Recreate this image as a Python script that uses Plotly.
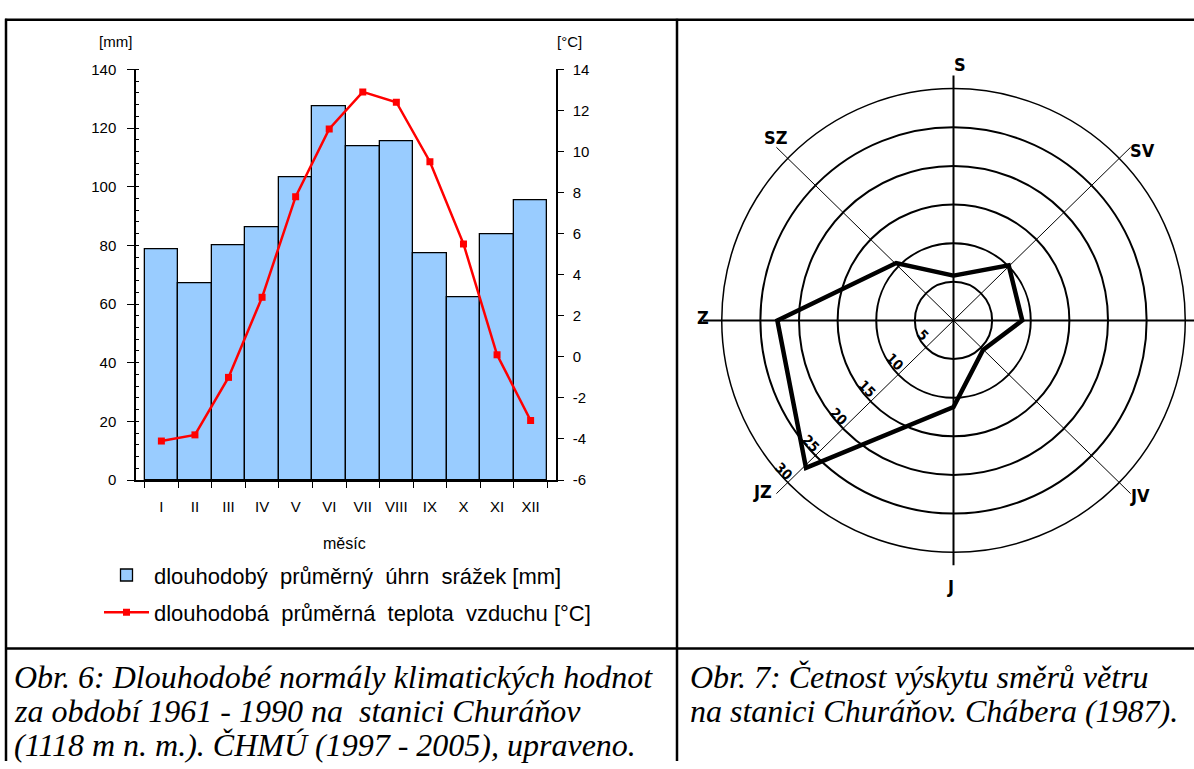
import math
import plotly.graph_objects as go

W, H = 1194, 769

# ---------------- data ----------------
months = ["I", "II", "III", "IV", "V", "VI", "VII", "VIII", "IX", "X", "XI", "XII"]
precip_mm = [78.8, 67.2, 80.1, 86.0, 103.2, 127.5, 113.7, 115.6, 77.2, 62.3, 83.8, 95.4]
temp_c = [-4.1, -3.8, -1.0, 2.9, 7.8, 11.1, 12.9, 12.4, 9.5, 5.5, 0.1, -3.1]
temp_tick_vals = [-6, -4, -2, 0, 2, 4, 6, 8, 10, 12, 14]
temp_tick_text = ["-6", "-4", "-2", "0", "2", "4", "6", "8", "10", "12", "14"]

directions = ["S", "SV", "V", "JV", "J", "JZ", "Z", "SZ"]
wind_freq = [5.8, 10.1, 8.9, 5.4, 11.2, 27.0, 22.8, 10.5]
rings = [5, 10, 15, 20, 25, 30]

legend_precip = "dlouhodobý  průměrný  úhrn  srážek [mm]"
legend_temp = "dlouhodobá  průměrná  teplota  vzduchu [°C]"
caption_left = ["Obr. 6: Dlouhodobé normály klimatických hodnot",
                "za období 1961 - 1990 na  stanici Churáňov",
                "(1118 m n. m.). ČHMÚ (1997 - 2005), upraveno."]
caption_right = ["Obr. 7: Četnost výskytu směrů větru",
                 "na stanici Churáňov. Chábera (1987)."]

# ---------------- helpers (pixel -> paper) ----------------
def px(x):
    return x / W

def py(y):
    return 1 - y / H

SANS = "Liberation Sans, Arial, sans-serif"
NARROW = "Liberation Sans Narrow, DejaVu Sans Condensed, Arial Narrow, sans-serif"
SERIF = "Liberation Serif, Times New Roman, serif"

fig = go.Figure()

# ---------------- left: climate chart ----------------
fig.add_trace(go.Bar(
    x=months, y=precip_mm, name=legend_precip,
    marker=dict(color="#99CCFF", line=dict(color="black", width=1.3)),
    xaxis="x", yaxis="y", legend="legend",
))
fig.add_trace(go.Scatter(
    x=months, y=temp_c, name=legend_temp, mode="lines+markers",
    line=dict(color="#FF0000", width=2.5),
    marker=dict(symbol="square", size=7, color="#FF0000"),
    xaxis="x", yaxis="y2", legend="legend2",
))

# ---------------- right: wind rose ----------------
cx, cy, scale = 953.5, 318.5, 7.9   # centre pixel and pixels per % unit
R = max(rings)

spoke_len = 31.7
for i, d in enumerate(directions):
    a = math.radians(i * 45)
    fig.add_trace(go.Scatter(
        x=[0, spoke_len * math.sin(a)], y=[0, spoke_len * math.cos(a)],
        mode="lines", line=dict(color="black", width=2 if i % 2 == 0 else 1),
        xaxis="x2", yaxis="y4", showlegend=False, hoverinfo="skip",
    ))

fig.add_trace(go.Scatterpolar(
    r=wind_freq + wind_freq[:1], theta=directions + directions[:1],
    mode="lines", line=dict(color="black", width=4.5),
    subplot="polar", showlegend=False,
))

label_r = {"S": 33.1, "SV": 32.5, "V": 33, "JV": 32.7, "J": 34.4, "JZ": 32.8, "Z": 31.7, "SZ": 32.7}
label_da = {"S": 1.4, "SV": 2.4, "V": 0, "JV": -1.2, "J": 0.7, "JZ": 2.6, "Z": 0.6, "SZ": 1.5}
annotations = []
for i, d in enumerate(directions):
    a = math.radians(i * 45 + label_da[d])
    annotations.append(dict(
        x=label_r[d] * math.sin(a), y=label_r[d] * math.cos(a), xref="x2", yref="y4",
        xanchor="center", yanchor="middle",
        text=f"<b>{d}</b>", showarrow=False,
        font=dict(family=NARROW, size=18, color="black"),
    ))
s45 = math.sin(math.radians(45))
for rv in rings:
    annotations.append(dict(
        x=-rv * s45 - 0.3, y=-rv * s45 + 1.7, xref="x2", yref="y4",
        xanchor="center", yanchor="middle",
        text=f"<b>{rv}</b>", showarrow=False, textangle=45,
        font=dict(family=NARROW, size=14, color="black"),
    ))

# ---------------- text around left chart ----------------
def label(x, y, text, size, family=SANS, xanchor="center", style="normal"):
    annotations.append(dict(
        x=px(x), y=py(y), xref="paper", yref="paper", xanchor=xanchor, yanchor="middle",
        text=text, showarrow=False,
        font=dict(family=family, size=size, color="black", style=style),
    ))

label(115, 33, "[mm]", 15)
label(569, 33, "[°C]", 15)
label(345, 547, "měsíc", 16)
for k, line in enumerate(caption_left):
    label(12, 683 + 35 * k, line, 32, family=SERIF, xanchor="left", style="italic")
for k, line in enumerate(caption_right):
    label(688, 683 + 35 * k, line, 32, family=SERIF, xanchor="left", style="italic")

# ---------------- table borders ----------------
shapes = []
def hline(y, x0, x1):
    shapes.append(dict(type="line", xref="paper", yref="paper", x0=px(x0), x1=px(x1),
                       y0=py(y), y1=py(y), line=dict(color="black", width=2.5)))
def vline(x, y0, y1):
    shapes.append(dict(type="line", xref="paper", yref="paper", x0=px(x), x1=px(x),
                       y0=py(y0), y1=py(y1), line=dict(color="black", width=2.5)))
hline(11, 5, W)
hline(654, 5, W)
vline(6, 10, H)
vline(677, 10, H)

axis_font = dict(family=SANS, size=15, color="black")
legend_font = dict(family=SANS, size=22, color="black")
fig.update_layout(
    width=W, height=H, margin=dict(l=0, r=0, t=0, b=0),
    paper_bgcolor="white", plot_bgcolor="rgba(0,0,0,0)",
    bargap=0,
    xaxis=dict(domain=[px(136), px(556)], anchor="y", type="category",
               tickson="boundaries", ticks="outside", ticklen=6, tickwidth=1.3, tickcolor="black",
               showline=True, linecolor="black", linewidth=1.5, showgrid=False,
               tickfont=axis_font, ticklabelstandoff=12, fixedrange=True),
    yaxis=dict(domain=[py(481.7), py(61.7)], anchor="x", range=[0, 140], tick0=0, dtick=20,
               ticks="outside", ticklen=7, tickwidth=1.3, tickcolor="black",
               minor=dict(dtick=4, ticks="inside", ticklen=3, tickcolor="black", tickwidth=1),
               showline=True, linecolor="black", linewidth=1.5, showgrid=False, zeroline=False,
               tickfont=axis_font, ticklabelstandoff=8, fixedrange=True),
    yaxis2=dict(overlaying="y", side="right", anchor="x", range=[-6, 14],
                tickmode="array", tickvals=temp_tick_vals, ticktext=temp_tick_text,
                ticks="outside", ticklen=6, tickwidth=1.3, tickcolor="black",
                showline=True, linecolor="black", linewidth=1.5, showgrid=False, zeroline=False,
                tickfont=axis_font, ticklabelstandoff=6, fixedrange=True),
    yaxis3=dict(overlaying="y", side="right", anchor="x", range=[-6, 14],
                tickmode="array", tickvals=temp_tick_vals,
                ticks="inside", ticklen=6, tickwidth=1.3, tickcolor="black",
                showticklabels=False, showline=False, showgrid=False, zeroline=False, fixedrange=True),
    xaxis2=dict(domain=[px(682), 1.0], anchor="y4",
                range=[(682 - cx) / scale, (W - cx) / scale], visible=False, fixedrange=True),
    yaxis4=dict(domain=[py(652), py(14)], anchor="x2",
                range=[(cy - 652) / scale, (cy - 14) / scale], visible=False, fixedrange=True),
    polar=dict(
        domain=dict(x=[px(cx - R * scale), px(cx + R * scale)],
                    y=[py(cy + R * scale), py(cy - R * scale)]),
        bgcolor="rgba(0,0,0,0)",
        radialaxis=dict(range=[0, R], tickvals=rings, showticklabels=False, ticks="",
                        showline=False, gridcolor="black", gridwidth=1.5),
        angularaxis=dict(type="category", categoryarray=directions, direction="clockwise",
                         rotation=90, showgrid=False, showticklabels=False, ticks="",
                         showline=True, linecolor="black", linewidth=1.5),
    ),
    legend=dict(x=px(99), y=py(579), xanchor="left", yanchor="middle",
                font=legend_font, bgcolor="rgba(0,0,0,0)", itemwidth=45, borderwidth=0),
    legend2=dict(x=px(99), y=py(617), xanchor="left", yanchor="middle",
                 font=legend_font, bgcolor="rgba(0,0,0,0)", itemwidth=45, borderwidth=0),
    annotations=annotations,
    shapes=shapes,
    showlegend=True,
)

fig.write_html("out.html", config={"displayModeBar": False},
               post_script="document.body.style.margin='0';document.body.style.overflow='hidden';")
